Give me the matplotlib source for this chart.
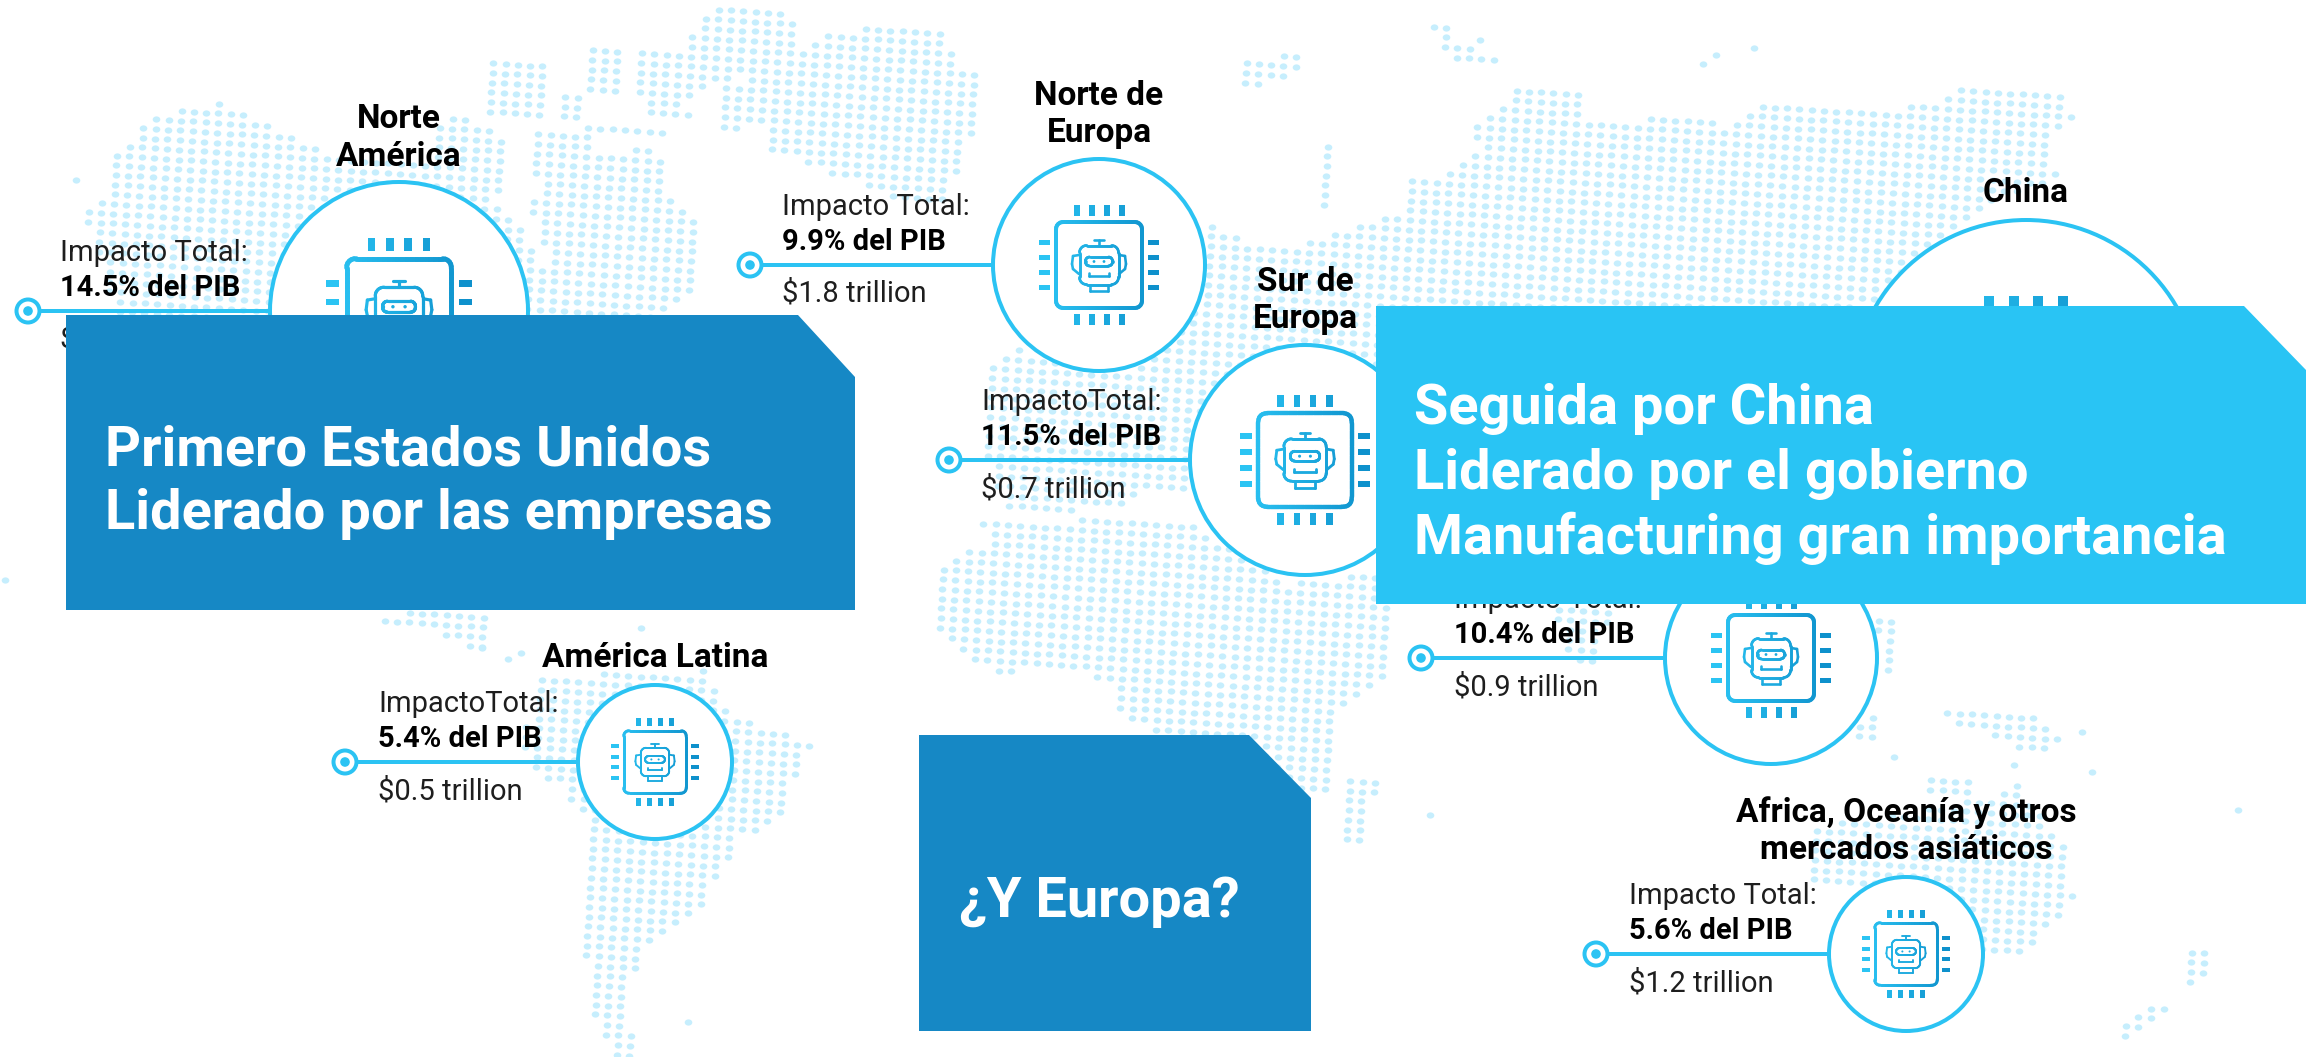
#!/usr/bin/env python3
# -*- coding: utf-8 -*-
import numpy as np
import matplotlib
matplotlib.use("Agg")
import matplotlib.pyplot as plt
from matplotlib.collections import LineCollection
from matplotlib.colors import LinearSegmentedColormap, Normalize
from matplotlib.patches import Circle, Polygon, Rectangle
from matplotlib.path import Path
from matplotlib.transforms import Affine2D

W, H = 2318, 1057

# regions : name lines, label, share, value
names = [["Norte", "América"], ["Norte de", "Europa"], ["Sur de", "Europa"], ["China"],
         [], ["América Latina"], ["Africa, Oceanía y otros", "mercados asiáticos"]]
labels = ["Impacto Total:", "Impacto Total:", "ImpactoTotal:", None,
          "Impacto Total:", "ImpactoTotal:", "Impacto Total:"]
shares = ["14.5% del PIB", "9.9% del PIB", "11.5% del PIB", None,
          "10.4% del PIB", "5.4% del PIB", "5.6% del PIB"]
values = ["$3.7 trillion", "$1.8 trillion", "$0.7 trillion", None,
          "$0.9 trillion", "$0.5 trillion", "$1.2 trillion"]

# circle geometry, pixels
circle_x = [399, 1099, 1305, 2026, 1771, 655, 1906]
circle_y = [311, 265, 460, 394, 658, 762, 954]
circle_r = [129, 106, 115, 174, 106, 77, 77]
marker_x = [28, 750, 949, None, 1421, 345, 1596]
text_x = [60, 782, 981, None, 1454, 378, 1629]
name_base = [[128, 166], [105, 142], [291, 328], [202], [], [667], [822, 859]]

# callout boxes
box_x0 = [66, 1376, 919]
box_x1 = [855, 2306, 1311]
box_y0 = [315, 306, 735]
box_y1 = [610, 604, 1031]
box_notch_x = [798, 2244, 1249]
box_notch_y = [377, 370, 798]
box_colors = ["#1688C5", "#29C4F4", "#1688C5"]
box_text = [["Primero Estados Unidos", "Liderado por las empresas"],
            ["Seguida por China", "Liderado por el gobierno", "Manufacturing gran importancia"],
            ["¿Y Europa?"]]
box_text_x = [105, 1414, 959]
box_text_base = [[466, 529], [424, 489, 554], [917]]

# land outlines for the dot map, pixels
land = [
    [(85, 215), (112, 192), (115, 152), (155, 118), (222, 100), (300, 138), (345, 160), (430, 165), (445, 108),
     (505, 135), (508, 180), (492, 196), (520, 225), (560, 290), (600, 330), (120, 330)],
    [(590, 150), (660, 150), (665, 190), (695, 220), (700, 290), (660, 320), (600, 330), (560, 290), (525, 200)],
    [(535, 130), (590, 130), (590, 180), (535, 180)],
    [(484, 60), (545, 60), (545, 115), (484, 115)],
    [(560, 95), (580, 95), (578, 118), (560, 118)],
    [(590, 45), (620, 45), (620, 92), (590, 92)],
    [(638, 50), (682, 50), (688, 115), (640, 115)],
    [(585, 120), (662, 125), (665, 136), (590, 136)],
    [(705, 10), (780, 6), (797, 25), (800, 52), (835, 28), (945, 30), (955, 62), (985, 75), (975, 125),
     (960, 160), (950, 200), (890, 197), (770, 150), (765, 128), (720, 128), (722, 90), (760, 68), (690, 96),
     (640, 96), (640, 55), (684, 48)],
    [(1244, 58), (1307, 55), (1305, 72), (1244, 88)],
    [(1317, 140), (1333, 140), (1333, 205), (1365, 212), (1320, 212)],
    [(985, 375), (1015, 345), (1080, 372), (1130, 372), (1170, 345), (1195, 300), (1203, 218), (1260, 245),
     (1290, 247), (1320, 238), (1365, 222), (1400, 300), (1400, 520), (1190, 492), (1140, 485), (1125, 510),
     (1010, 510), (985, 460)],
    [(1310, 240), (1326, 240), (1365, 220), (1400, 217), (1404, 175), (1443, 177), (1456, 160), (1482, 150),
     (1472, 130), (1514, 100), (1514, 83), (1576, 87), (1586, 117), (1618, 120), (1696, 115), (1729, 128),
     (1758, 100), (1881, 108), (1930, 102), (1969, 85), (2066, 92), (2076, 122), (2047, 140), (2047, 163),
     (2073, 172), (1982, 207), (1950, 233), (1871, 307), (1400, 320)],
    [(1433, 25), (1445, 25), (1460, 45), (1505, 55), (1505, 64), (1450, 62)],
    [(1700, 55), (1727, 55), (1727, 58), (1700, 68)],
    [(1748, 46), (1765, 46), (1765, 54), (1748, 54)],
    [(983, 523), (1015, 520), (1125, 520), (1200, 528), (1290, 585), (1313, 577), (1376, 575), (1397, 610),
     (1395, 655), (1380, 680), (1345, 700), (1330, 720), (1328, 790), (1312, 795), (1113, 713), (1113, 683),
     (1060, 668), (997, 673), (960, 653), (935, 630), (940, 570), (983, 543)],
    [(1553, 605), (1610, 605), (1600, 670), (1570, 665)],
    [(1878, 620), (1896, 620), (1896, 672), (1878, 672)],
    [(1858, 717), (1880, 717), (1880, 738), (1858, 738)],
    [(1946, 708), (2020, 712), (2050, 725), (2062, 745), (2035, 758), (1990, 735), (1946, 722)],
    [(1930, 778), (1972, 778), (1972, 795), (1930, 795)],
    [(1806, 825), (1900, 815), (1960, 800), (2010, 790), (2018, 775), (2030, 800), (2070, 850), (2072, 900),
     (2020, 960), (1980, 958), (1960, 920), (1900, 885), (1810, 880)],
    [(2192, 945), (2205, 945), (2210, 982), (2180, 982)],
    [(2112, 1030), (2160, 995), (2172, 1010), (2125, 1045)],
    [(1345, 780), (1378, 780), (1360, 842), (1345, 842)],
    [(384, 612), (490, 612), (490, 640), (478, 650), (440, 632), (384, 622)],
    [(537, 675), (703, 670), (730, 715), (819, 745), (800, 760), (787, 807), (767, 828), (741, 837), (729, 863),
     (716, 873), (703, 902), (677, 930), (647, 948), (631, 977), (628, 1023), (640, 1057), (615, 1055),
     (599, 1033), (589, 997), (592, 983), (582, 953), (582, 923), (589, 883), (592, 857), (582, 843),
     (586, 823), (566, 793), (540, 772), (521, 750)],
]
lone_x = [76, 5, 641, 508, 521, 482, 688, 2238, 1430, 2092, 2082, 1894, 2014, 1480]
lone_y = [180, 580, 628, 659, 653, 648, 1022, 810, 815, 772, 732, 757, 765, 40]

LINE = "#2BC3F3"
DOT = "#C6EEFD"
cmap = LinearSegmentedColormap.from_list("chip", ["#2CC6F5", "#0D8FCA"])
THIN = ["Roboto", "DejaVu Sans"]
BOLD = ["Roboto", "DejaVu Sans"]


def round_rect(cx, cy, hw, hh, rad):
    xs, ys = [], []
    corners = [(hw - rad, -hh + rad, -90), (hw - rad, hh - rad, 0), (-hw + rad, hh - rad, 90), (-hw + rad, -hh + rad, 180)]
    for dx, dy, a0 in corners:
        t = np.radians(np.linspace(a0, a0 + 90, 10))
        xs += list(cx + dx + rad * np.cos(t))
        ys += list(cy + dy + rad * np.sin(t))
    xs.append(xs[0])
    ys.append(ys[0])
    xs, ys = np.array(xs), np.array(ys)
    # densify so that the colour runs along straight edges too
    d = np.r_[0, np.cumsum(np.hypot(np.diff(xs), np.diff(ys)))]
    u = np.linspace(0, d[-1], 160)
    return np.interp(u, d, xs), np.interp(u, d, ys)


def stroke(ax, xs, ys, norm, lw, z):
    pts = np.column_stack([xs, ys]).reshape(-1, 1, 2)
    segs = np.concatenate([pts[:-1], pts[1:]], axis=1)
    lc = LineCollection(segs, cmap=cmap, norm=norm, linewidths=lw * 0.72, capstyle="round", zorder=z)
    lc.set_array((xs[:-1] + xs[1:]) / 2)
    ax.add_collection(lc)


def icon(ax, cx, cy, r, z=4):
    s = r / 106.0
    norm = Normalize(cx - 60 * s, cx + 60 * s)
    lw = 4 * s
    for off in (-22.5, -7.5, 7.5, 22.5):
        # pins on the four sides
        for sx, sy, w, h in ((off, -54.5, 6, 11), (off, 54.5, 6, 11), (-54.5, off, 11, 5.5), (54.5, off, 11, 5.5)):
            x = cx + sx * s
            ax.add_patch(Rectangle((x - w * s / 2, cy + sy * s - h * s / 2), w * s, h * s,
                                   fc=cmap(norm(x)), ec="none", zorder=z))
    stroke(ax, *round_rect(cx, cy, 43 * s, 43 * s, 7 * s), norm, lw, z)
    lw = 2.6 * s
    stroke(ax, *round_rect(cx, cy, 19.5 * s, 19.5 * s, 7 * s), norm, lw, z)
    stroke(ax, *round_rect(cx, cy - 3.5 * s, 13.5 * s, 4.5 * s, 4 * s), norm, lw, z)
    stroke(ax, cx + np.array([-10, -10, 10, 10]) * s, cy + np.array([8, 11, 11, 8]) * s, norm, lw, z)
    stroke(ax, cx + np.array([0.0, 0.0]) * s, cy + np.array([-20, -25]) * s, norm, lw, z)
    stroke(ax, cx + np.array([-5.0, 5.0]) * s, cy + np.array([-25, -25]) * s, norm, lw, z)
    stroke(ax, cx + np.array([-9, -9, 9, 9]) * s, cy + np.array([20, 26, 26, 20]) * s, norm, lw, z)
    for sign in (-1, 1):
        stroke(ax, cx + sign * np.array([20, 26, 27, 26, 20]) * s, cy + np.array([-10, -9, -1, 4, 9]) * s, norm, lw, z)
        ax.add_patch(Circle((cx + sign * 5 * s, cy - 3.5 * s), 1.4 * s, fc=cmap(norm(cx)), ec="none", zorder=z))


fig = plt.figure(figsize=(W / 100, H / 100), dpi=100, facecolor="white")
ax = fig.add_axes([0, 0, 1, 1])
ax.set_xlim(0, W)
ax.set_ylim(H, 0)
ax.axis("off")

# dot map: a slightly sheared grid, kept where it falls on land
ii, jj = np.meshgrid(np.arange(-20, 210), np.arange(-30, 130))
gx = (ii * 12.3 - jj * 0.6 + 3).ravel()
gy = (jj * 9.7 + ii * 0.8 + 2).ravel()
keep = np.zeros(gx.size, dtype=bool)
pts = np.column_stack([gx, gy])
for poly in land:
    keep |= Path(poly).contains_points(pts)
dot = Path.unit_circle().transformed(Affine2D().scale(1, 0.82))
ax.scatter(np.r_[gx[keep], lone_x], np.r_[gy[keep], lone_y], s=30, marker=dot, c=DOT, linewidths=0, zorder=1)

for i in range(len(circle_x)):
    cx, cy, r = circle_x[i], circle_y[i], circle_r[i]
    if marker_x[i] is not None:
        mx = marker_x[i]
        ax.plot([mx + 12, cx - r], [cy, cy], color=LINE, lw=4 * 0.72, zorder=2, solid_capstyle="butt")
        ax.add_patch(Circle((mx, cy), 11.5, fc="white", ec=LINE, lw=4 * 0.72, zorder=2))
        ax.add_patch(Circle((mx, cy), 4.8, fc=LINE, ec="none", zorder=2))
        tx = text_x[i]
        ax.text(tx, cy - 50, labels[i], family=THIN, fontsize=21, color="#1E1E1E", va="baseline", zorder=5)
        ax.text(tx, cy - 15, shares[i], family=BOLD, weight="bold", fontsize=21, color="black", va="baseline", zorder=5)
        ax.text(tx, cy + 37, values[i], family=THIN, fontsize=21, color="#1E1E1E", va="baseline", zorder=5)
    ax.add_patch(Circle((cx, cy), r, fc="white", ec=LINE, lw=4 * 0.72, zorder=3))
    icon(ax, cx, cy, r)
    for line, base in zip(names[i], name_base[i]):
        ax.text(cx, base, line, family=BOLD, weight="bold", fontsize=24, color="black", ha="center", va="baseline", zorder=5)

for i in range(3):
    x0, x1, y0, y1 = box_x0[i], box_x1[i], box_y0[i], box_y1[i]
    outline = [(x0, y0), (box_notch_x[i], y0), (x1, box_notch_y[i]), (x1, y1), (x0, y1)]
    ax.add_patch(Polygon(outline, closed=True, fc=box_colors[i], ec="none", zorder=6))
    for line, base in zip(box_text[i], box_text_base[i]):
        ax.text(box_text_x[i], base, line, family=BOLD, weight="bold", fontsize=40.3, color="white", va="baseline", zorder=7)

fig.savefig("out.png", dpi=100, facecolor="white")
